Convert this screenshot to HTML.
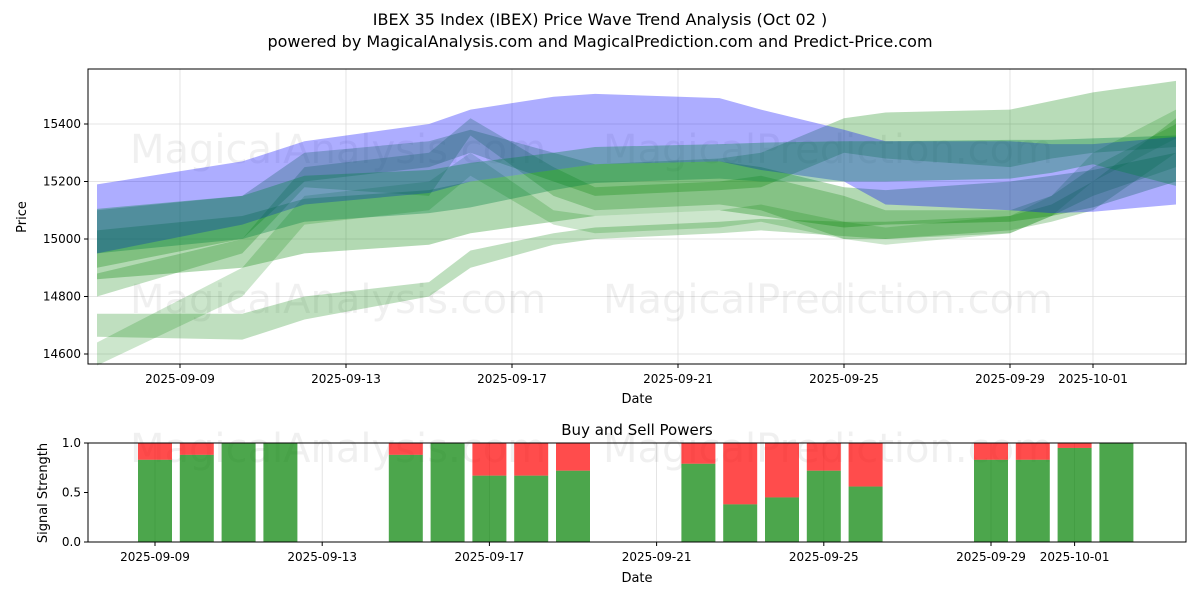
<!DOCTYPE html>
<html><head><meta charset="utf-8"><style>
body{margin:0;background:#fff;font-family:"Liberation Sans","DejaVu Sans",sans-serif}
svg text{font-family:"DejaVu Sans","Liberation Sans",sans-serif}
</style></head><body>
<svg id="c" width="1200" height="600" viewBox="0 0 1200 600" xmlns="http://www.w3.org/2000/svg">
<rect width="1200" height="600" fill="#fff"/>
<text x="600" y="25" font-size="16" text-anchor="middle">IBEX 35 Index (IBEX) Price Wave Trend Analysis (Oct 02 )</text>
<text x="600" y="47" font-size="16" text-anchor="middle">powered by MagicalAnalysis.com and MagicalPrediction.com and Predict-Price.com</text>
<g id="top"></g>
<g id="bot"></g>
</svg>
<script>
const dayTicks = [0,4,8,12,16,20,22];
const tickLabels = ["2025-09-09","2025-09-13","2025-09-17","2025-09-21","2025-09-25","2025-09-29","2025-10-01"];
const priceTicks = [14600,14800,15000,15200,15400];
const bandDays = [-2,1.5,3,6,7,9,10,13,14,16,17,20,21,22,24];
const blueUpper = [15190,15270,15340,15400,15450,15495,15505,15490,15450,15380,15340,15340,15330,15330,15355];
const blueLower = [14950,15050,15120,15160,15200,15240,15260,15270,15240,15200,15120,15100,15090,15095,15120];
const g1Upper = [15105,15150,15220,15240,15265,15300,15320,15330,15335,15340,15340,15345,15345,15350,15360];
const g1Lower = [14950,15000,15060,15090,15110,15170,15195,15210,15200,15200,15200,15210,15230,15260,15185];
const g2Upper = [15030,15080,15140,15170,15200,15240,15260,15270,15250,15180,15170,15200,15220,15240,15300];
const g2Lower = [14860,14900,14950,14980,15020,15060,15080,15100,15080,15040,15050,15060,15080,15110,15200];
const g3Upper = [14740,14740,14800,14850,14960,15020,15040,15060,15070,15060,15060,15080,15120,15200,15420];
const g3Lower = [14660,14650,14720,14800,14900,14980,15000,15020,15030,15010,15000,15030,15060,15100,15300];
const g4Upper = [15100,15150,15300,15340,15380,15300,15260,15280,15300,15420,15440,15450,15480,15510,15550];
const g4Lower = [14900,15000,15200,15250,15300,15200,15150,15170,15180,15300,15280,15250,15280,15300,15320];
const g5Upper = [14880,15000,15250,15300,15420,15250,15180,15200,15220,15150,15100,15100,15150,15250,15400];
const g5Lower = [14800,14950,15180,15150,15360,15150,15100,15120,15100,15000,15000,15020,15080,15150,15250];
const g6Upper = [14640,14900,15150,15200,15300,15100,15080,15100,15120,15060,15040,15080,15150,15300,15450];
const g6Lower = [14560,14800,15050,15100,15220,15050,15020,15040,15060,15000,14980,15020,15080,15200,15350];
const barDays = [0,1,2,3,6,7,8,9,10,13,14,15,16,17,20,21,22,23];
const buyPower = [0.83,0.88,1.0,1.0,0.88,1.0,0.67,0.67,0.72,0.79,0.38,0.45,0.72,0.56,0.83,0.83,0.95,1.0];
const signalTicks = [0,0.5,1.0];

const NS="http://www.w3.org/2000/svg";
const L=88,R=1186,T1=69,B1=364,T2=443,B2=542;
const xd=d=>180+d*41.5;
const xb=d=>155+d*41.8;
const yp=p=>124+(15400-p)*0.2875;
const ys=v=>B2-v*(B2-T2);
function mk(tag,attrs,parent,txt){const e=document.createElementNS(NS,tag);for(const k in attrs)e.setAttribute(k,attrs[k]);if(txt!==undefined)e.textContent=txt;parent.appendChild(e);return e;}
const gTop=document.getElementById('top'),gBot=document.getElementById('bot');

function axesFrame(g,T,B,name){
  const r=mk('rect',{x:L,y:T,width:R-L,height:B-T,fill:'none',stroke:'#000','stroke-width':1},g);
  
  
}
dayTicks.forEach((d,i)=>{
  const x=xd(d);
  const gl=mk('line',{x1:x,x2:x,y1:T1,y2:B1,stroke:'#ddd','stroke-width':0.8},gTop);
  
  
  mk('line',{x1:x,x2:x,y1:B1,y2:B1+4,stroke:'#000'},gTop);
  const t=mk('text',{x:x,y:B1+19,'font-size':12,'text-anchor':'middle'},gTop,tickLabels[i]);
  
  
  const xx=xb(d);
  mk('line',{x1:xx,x2:xx,y1:T2,y2:B2,stroke:'#ddd','stroke-width':0.8},gBot);
  mk('line',{x1:xx,x2:xx,y1:B2,y2:B2+4,stroke:'#000'},gBot);
  const t2=mk('text',{x:xx,y:B2+19,'font-size':12,'text-anchor':'middle'},gBot,tickLabels[i]);
  
  
});
priceTicks.forEach(p=>{
  const y=yp(p);
  mk('line',{x1:L,x2:R,y1:y,y2:y,stroke:'#ddd','stroke-width':0.8},gTop);
  mk('line',{x1:L-4,x2:L,y1:y,y2:y,stroke:'#000'},gTop);
  const t=mk('text',{x:L-7,y:y+4,'font-size':12,'text-anchor':'end'},gTop,String(p));
  
  
});
[["MagicalAnalysis.com",130,163,gTop],["MagicalPrediction.com",603,163,gTop],["MagicalAnalysis.com",130,313,gTop],["MagicalPrediction.com",603,313,gTop],["MagicalAnalysis.com",130,462,gBot],["MagicalPrediction.com",603,462,gBot]].forEach(w=>{
  const t=mk('text',{x:w[1],y:w[2],'font-size':40,fill:'#000','fill-opacity':0.06},w[3],w[0]);
  
  
});
function band(up,lo,color,op,name){
  const pts=[];
  bandDays.forEach((d,i)=>pts.push(xd(d)+','+yp(up[i])));
  for(let i=bandDays.length-1;i>=0;i--)pts.push(xd(bandDays[i])+','+yp(lo[i]));
  const p=mk('polygon',{points:pts.join(' '),fill:color,'fill-opacity':op},gTop);
  
  
}
band(g3Upper,g3Lower,'#008000',0.25,'wave-band-green-3');
band(g6Upper,g6Lower,'#008000',0.2,'wave-band-green-6');
band(g5Upper,g5Lower,'#008000',0.25,'wave-band-green-5');
band(g2Upper,g2Lower,'#008000',0.3,'wave-band-green-2');
band(g4Upper,g4Lower,'#008000',0.28,'wave-band-green-4');
band(blueUpper,blueLower,'#0000ff',0.32,'wave-band-blue');
band(g1Upper,g1Lower,'#008040',0.35,'wave-band-green-1');
axesFrame(gTop,T1,B1,'price-axes');
let t=mk('text',{x:637,y:403,'font-size':13,'text-anchor':'middle'},gTop,'Date');


t=mk('text',{x:26,y:217,'font-size':13,'text-anchor':'middle',transform:'rotate(-90 26 217)'},gTop,'Price');



signalTicks.forEach(v=>{
  const y=ys(v);
  mk('line',{x1:L-4,x2:L,y1:y,y2:y,stroke:'#000'},gBot);
  const tt=mk('text',{x:L-7,y:y+4,'font-size':12,'text-anchor':'end'},gBot,v.toFixed(1));
  
  
});
barDays.forEach((d,i)=>{
  const x=xb(d)-17,w=34,b=buyPower[i];
  const s=mk('rect',{x:x,y:ys(1),width:w,height:ys(b)-ys(1),fill:'#ff0000','fill-opacity':0.7},gBot);
  
  
  const g=mk('rect',{x:x,y:ys(b),width:w,height:B2-ys(b),fill:'#008000','fill-opacity':0.7},gBot);
  
  
});
axesFrame(gBot,T2,B2,'signal-axes');
t=mk('text',{x:637,y:435,'font-size':15,'text-anchor':'middle'},gBot,'Buy and Sell Powers');


t=mk('text',{x:637,y:582,'font-size':13,'text-anchor':'middle'},gBot,'Date');


t=mk('text',{x:47,y:493,'font-size':13,'text-anchor':'middle',transform:'rotate(-90 47 493)'},gBot,'Signal Strength');


</script>
</body></html>
